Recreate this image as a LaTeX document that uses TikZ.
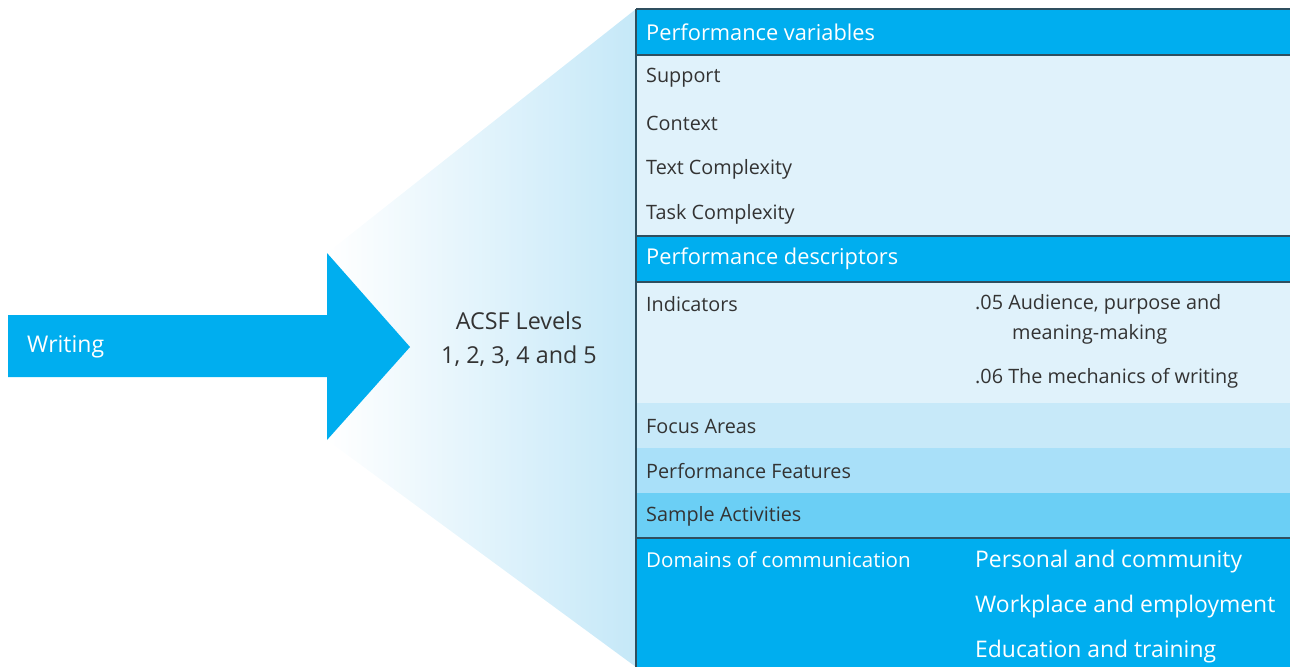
\documentclass[tikz,border=0pt]{standalone}
\usepackage{fontspec}
\setmainfont{Open Sans}
\definecolor{dblue}{HTML}{00AEEF}
\definecolor{lrow}{HTML}{E0F2FB}
\definecolor{focus}{HTML}{C7E9F9}
\definecolor{pfeat}{HTML}{A9E0F9}
\definecolor{sact}{HTML}{6BCFF5}
\definecolor{wedge}{HTML}{C5E8F8}
\definecolor{txt}{HTML}{333333}
\definecolor{rule}{HTML}{2F4F5F}
\tikzset{
  x=1pt, y=-1pt,
  body/.style={anchor=west, text=txt, font=\fontsize{19.8}{23}\selectfont, inner sep=0pt},
  head/.style={anchor=west, text=white, font=\fontsize{21.8}{26}\selectfont, inner sep=0pt},
  dom/.style={anchor=west, text=white, font=\fontsize{22.9}{28}\selectfont, inner sep=0pt},
  hline/.style={draw=rule, line width=1.2pt},
}
\begin{document}
\begin{tikzpicture}
\useasboundingbox (0,0) rectangle (1290,667);
% wedge with gradient
\shade[left color=white, right color=wedge] (327,253) -- (636,9) -- (636,667) -- (327,440) -- cycle;
% arrow
\fill[dblue] (8,315) -- (327,315) -- (327,253) -- (410,347) -- (327,440) -- (327,377) -- (8,377) -- cycle;
\node[anchor=west, text=white, font=\fontsize{23}{27}\selectfont, inner sep=0pt] (writing) at (27,347) {Writing};
\node[text=txt, font=\fontsize{23.3}{34}\selectfont, align=center, inner sep=0pt] (acsf) at (519,339) {ACSF Levels\\1, 2, 3, 4 and 5};
% table rows
\fill[dblue] (636,9) rectangle (1290,55);
\fill[lrow] (636,55) rectangle (1290,236);
\fill[dblue] (636,236) rectangle (1290,282);
\fill[lrow] (636,282) rectangle (1290,403);
\fill[focus] (636,403) rectangle (1290,448);
\fill[pfeat] (636,448) rectangle (1290,493);
\fill[sact] (636,493) rectangle (1290,538);
\fill[dblue] (636,538) rectangle (1290,667);
% rules
\draw[hline] (636,9) -- (1290,9);
\draw[hline] (636,55) -- (1290,55);
\draw[hline] (636,236) -- (1290,236);
\draw[hline] (636,282) -- (1290,282);
\draw[hline] (636,538) -- (1290,538);
\draw[hline] (636,9) -- (636,667);
% texts
\node[head] (pv) at (646,32) {Performance variables};
\node[body] (sup) at (646,78) {Support};
\node[body] (ctx) at (646,123) {Context};
\node[body] (tc) at (646,169) {Text Complexity};
\node[body] (tkc) at (646,214) {Task Complexity};
\node[head] (pd) at (646,259) {Performance descriptors};
\node[body] (ind) at (646,304) {Indicators};
\node[body] (i05) at (975,304) {.05 Audience, purpose and};
\node[body] (i05b) at (1012,334) {meaning-making};
\node[body] (i06) at (975,378) {.06 The mechanics of writing};
\node[body] (fa) at (646,426) {Focus Areas};
\node[body] (pf) at (646,471) {Performance Features};
\node[body] (sa) at (646,516) {Sample Activities};
\node[head, font=\fontsize{20.5}{25}\selectfont] (doc) at (646,560) {Domains of communication};
\node[dom] (d1) at (975,562) {Personal and community};
\node[dom] (d2) at (975,607) {Workplace and employment};
\node[dom] (d3) at (975,652) {Education and training};
\end{tikzpicture}
\end{document}
